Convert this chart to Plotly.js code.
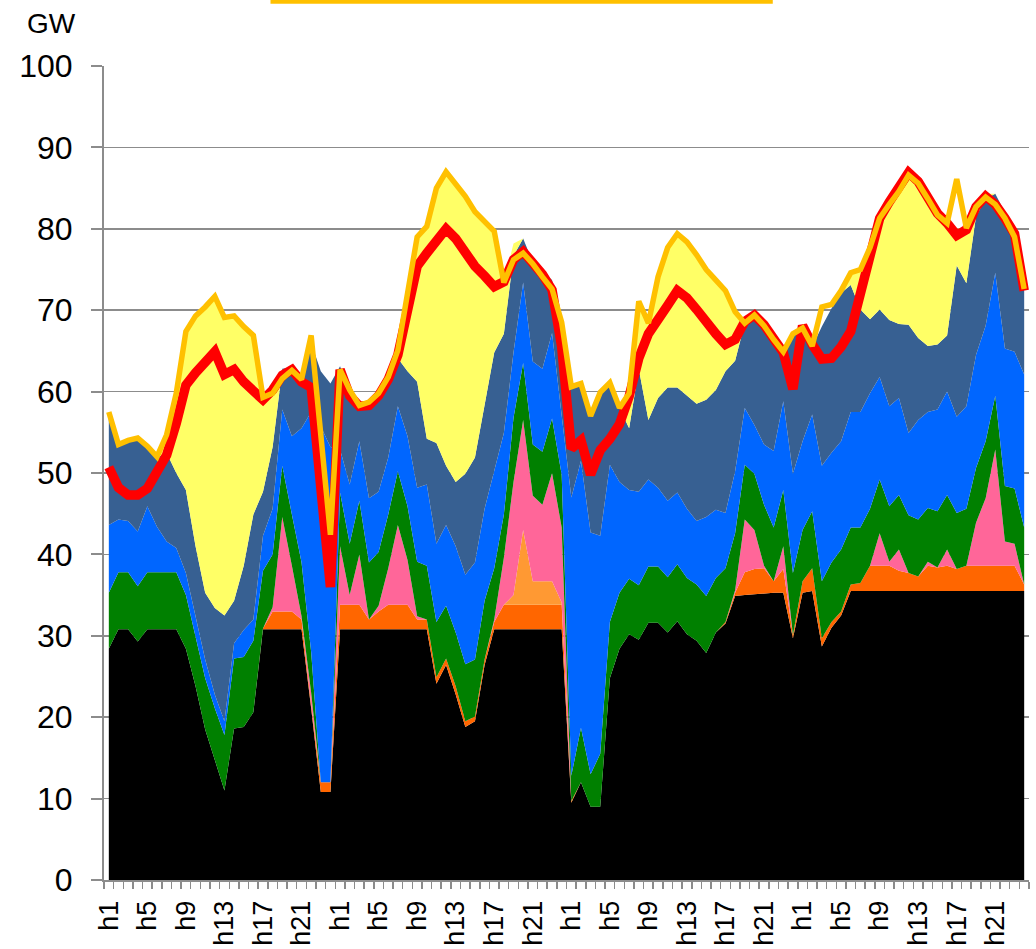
<!DOCTYPE html>
<html>
<head>
<meta charset="utf-8">
<script src="https://cdn.plot.ly/plotly-3.0.1.min.js"></script>
<style>
  html, body { margin: 0; padding: 0; background: #fff; }
  #chart { width: 1036px; height: 949px; }
</style>
</head>
<body>
<div id="chart"></div>
<script>
// 4 jours x 24 heures, une étiquette toutes les 4 heures
const hourNames = ['h1','h2','h3','h4','h5','h6','h7','h8','h9','h10','h11','h12',
                   'h13','h14','h15','h16','h17','h18','h19','h20','h21','h22','h23','h24'];
const dayCount = 4;
const labelStep = 4;

// Niveaux cumulés (haut de chaque couche empilée), en GW
const topBlack = [
  28.4,30.8,30.8,29.3,30.8,30.8,30.8,30.8,28.4,23.8,18.5,14.8,11.0,18.6,18.8,20.6,30.8,30.8,30.8,30.8,30.8,21.1,10.8,10.8,
  30.8,30.8,30.8,30.8,30.8,30.8,30.8,30.8,30.8,30.8,24.1,26.4,22.8,18.8,19.5,26.4,30.8,30.8,30.8,30.8,30.8,30.8,30.8,30.8,
  9.5,12.0,9.0,9.0,24.8,28.4,30.2,29.5,31.6,31.6,30.4,31.8,30.2,29.4,27.9,30.4,31.5,34.9,35.0,35.1,35.2,35.3,35.3,29.7,
  35.3,35.5,28.7,31.0,32.5,35.5,35.5,35.5,35.5,35.5,35.5,35.5,35.5,35.5,35.5,35.5,35.5,35.5,35.5,35.5,35.5,35.5,35.5,35.5
];
const topOrange = [
  28.4,30.8,30.8,29.3,30.8,30.8,30.8,30.8,28.4,23.8,18.5,14.8,11.0,18.6,18.8,20.6,30.9,33.0,33.0,33.0,32.0,21.5,12.0,12.0,
  33.8,33.8,33.8,32.0,33.0,33.8,33.8,33.8,32.0,32.0,24.9,27.2,23.8,19.5,20.1,27.1,31.7,33.8,33.8,33.8,33.8,33.8,33.8,33.8,
  9.7,12.0,9.0,9.0,24.8,28.4,30.2,29.5,31.6,31.6,30.4,31.8,30.2,29.4,27.9,30.4,31.7,35.3,37.8,38.2,38.3,36.7,38.2,30.1,
  36.7,38.3,29.7,31.7,33.0,36.3,36.5,38.6,38.6,38.6,38.0,37.7,37.3,38.6,38.4,38.6,38.2,38.6,38.6,38.6,38.6,38.6,38.6,36.3
];
const topLightOrange = [
  28.4,30.8,30.8,29.3,30.8,30.8,30.8,30.8,28.4,23.8,18.5,14.8,11.0,18.6,18.8,20.6,30.9,33.0,33.0,33.0,32.0,21.5,12.0,12.0,
  33.8,33.8,33.8,32.0,33.0,33.8,33.8,33.8,32.0,32.0,24.9,27.2,23.8,19.5,20.1,27.1,31.7,33.8,35.0,43.0,36.7,36.7,36.7,34.1,
  9.7,12.0,9.0,9.0,24.8,28.4,30.2,29.5,31.6,31.6,30.4,31.8,30.2,29.4,27.9,30.4,31.7,35.3,37.8,38.2,38.3,36.7,38.2,30.1,
  36.7,38.3,29.7,31.7,33.0,36.3,36.5,38.6,38.6,38.6,38.0,37.7,37.3,38.6,38.4,38.6,38.2,38.6,38.6,38.6,38.6,38.6,38.6,36.3
];
const topPink = [
  28.4,30.8,30.8,29.3,30.8,30.8,30.8,30.8,28.4,23.8,18.5,14.8,11.0,18.6,18.8,20.6,30.9,33.5,44.6,38.6,32.4,23.0,12.0,12.0,
  41.0,35.0,40.0,32.0,33.7,38.3,43.6,39.3,32.4,32.0,24.9,27.2,23.8,19.5,20.1,27.1,32.0,39.6,48.9,56.5,47.2,46.1,50.0,43.3,
  9.7,12.0,9.0,9.0,24.8,28.4,30.2,29.5,31.6,31.6,30.4,31.8,30.2,29.4,27.9,30.4,31.7,35.6,44.3,43.0,38.6,36.7,41.0,30.1,
  36.7,38.3,29.7,31.7,33.0,36.3,36.5,38.6,42.6,39.1,40.6,37.7,37.3,39.1,38.4,40.6,38.2,38.6,43.9,46.9,52.9,41.6,41.3,36.3
];
const topGreen = [
  35.3,37.8,37.8,36.1,37.8,37.8,37.8,37.8,35.0,29.7,24.8,21.1,17.8,27.2,27.4,29.4,38.0,40.0,50.9,44.9,39.0,28.0,12.0,12.0,
  47.6,41.3,46.6,39.0,40.3,44.9,50.2,45.9,39.1,38.6,31.7,33.7,30.4,26.5,27.1,34.3,38.3,44.9,56.8,63.5,53.5,52.6,56.7,49.8,
  12.8,18.7,13.0,15.5,31.7,35.3,37.0,36.2,38.5,38.5,37.2,38.8,37.1,36.3,34.9,37.1,38.3,42.6,51.0,49.9,46.1,43.3,47.9,37.7,
  43.0,45.3,36.7,39.0,40.6,43.3,43.3,45.6,49.2,45.9,47.3,44.8,44.3,45.7,45.3,47.3,45.1,45.6,50.6,53.9,59.5,48.4,48.1,43.3
];
const topBlue = [
  43.6,44.3,44.1,42.8,45.9,43.4,41.6,40.8,37.7,32.4,27.1,22.8,19.5,29.1,30.7,32.0,42.3,45.6,57.8,54.5,55.5,57.5,55.7,53.2,
  52.9,48.6,53.9,46.9,47.7,51.9,58.2,54.5,48.2,48.6,41.3,43.6,41.0,37.5,39.0,45.6,50.2,54.9,64.8,73.4,63.7,62.8,67.2,57.0,
  47.0,51.5,42.7,42.3,51.0,48.9,47.9,47.7,49.2,48.2,46.6,47.6,45.6,44.1,44.6,45.5,45.1,50.2,58.0,55.9,53.5,52.7,58.8,49.9,
  53.9,57.2,50.9,52.5,53.9,57.5,57.5,59.8,61.8,58.2,59.2,54.9,56.5,57.5,57.8,60.0,56.9,58.2,64.5,68.1,74.6,65.3,64.9,62.1
];
const topSlate = [
  56.8,53.4,53.9,54.2,53.2,51.9,52.5,50.0,47.9,41.0,35.3,33.4,32.5,34.3,38.6,44.9,47.7,53.2,62.8,63.0,61.5,66.0,62.5,61.0,
  63.1,59.8,58.2,58.2,59.2,61.2,64.1,62.5,61.2,54.2,53.7,50.9,48.9,49.9,51.9,58.2,64.8,67.1,76.7,78.8,75.9,74.8,73.7,68.0,
  61.0,61.0,57.0,59.8,61.0,58.0,55.5,62.8,56.5,59.2,60.5,60.5,59.5,58.5,59.0,60.2,62.5,63.8,68.4,69.4,68.4,67.1,65.5,67.2,
  67.8,65.5,68.0,70.2,72.1,73.1,70.1,68.9,70.1,68.8,68.3,68.2,66.6,65.6,65.8,66.9,75.5,73.3,81.5,83.7,84.3,82.0,80.3,72.4
];
const topYellow = [
  56.8,53.4,53.9,54.2,53.2,51.9,54.5,59.8,67.4,69.3,70.4,71.7,69.1,69.3,68.0,66.9,59.3,59.8,62.8,63.0,61.5,66.0,62.5,61.0,
  63.1,59.8,58.2,58.2,59.2,61.2,64.5,72.1,79.0,80.3,85.0,87.0,85.6,84.0,82.1,81.0,79.7,73.4,78.2,78.8,75.9,74.8,73.7,68.0,
  61.0,61.0,57.0,59.8,61.0,58.0,59.8,71.1,68.4,74.1,77.7,79.4,78.4,76.8,75.0,73.7,72.4,69.8,68.6,69.4,68.4,67.1,65.5,67.2,
  67.8,65.5,68.0,70.2,72.1,74.6,75.0,77.7,81.3,83.0,84.6,86.6,85.6,83.7,81.7,80.7,80.0,80.1,82.5,84.3,84.3,82.0,80.3,72.4
];

// Courbes
const redLine = [
  50.7,48.2,47.3,47.3,48.1,49.9,52.2,56.1,60.8,62.3,63.6,64.9,62.1,62.7,61.2,60.2,59.0,60.2,62.0,62.7,61.2,60.5,48.2,36.0,
  62.7,59.5,58.2,58.3,59.5,61.5,64.5,69.8,75.4,77.0,78.7,80.0,78.8,77.0,75.4,74.2,72.9,73.5,76.2,77.2,76.0,74.4,72.5,65.5,
  53.0,54.0,49.8,52.8,54.2,56.0,59.4,64.1,67.1,69.1,70.6,72.4,71.5,70.1,68.4,67.1,65.8,66.4,68.6,69.4,68.2,66.5,64.8,60.3,
  68.1,65.8,64.0,64.1,65.5,67.4,72.1,76.4,81.3,83.3,85.0,86.9,85.8,83.9,81.9,80.7,79.2,79.9,82.7,84.0,83.0,81.3,79.4,72.4
];
const goldLine = [
  57.5,53.5,54.0,54.3,53.3,52.0,54.7,59.8,67.4,69.3,70.4,71.7,69.1,69.3,68.0,66.9,59.3,59.8,61.6,62.6,61.5,66.9,54.7,42.4,
  62.7,60.2,58.3,58.7,59.8,61.8,65.1,72.1,79.0,80.3,85.0,87.0,85.6,84.0,82.1,81.0,79.7,73.4,76.2,77.0,75.7,74.1,72.6,68.5,
  60.6,61.0,57.0,59.9,61.1,58.0,59.8,71.1,68.4,74.1,77.7,79.4,78.4,76.8,75.0,73.7,72.4,69.8,68.4,69.4,68.1,66.4,64.9,67.1,
  67.8,65.6,70.4,70.7,72.4,74.6,75.0,77.7,81.3,83.0,84.6,86.6,85.6,83.7,81.7,80.7,86.1,80.1,82.7,83.9,83.0,81.3,79.0,72.6
];

// Couches empilées, de bas en haut
const layers = [
  { y: topBlack,       color: '#000000' },
  { y: topOrange,      color: '#FF6600' },
  { y: topLightOrange, color: '#FF9933' },
  { y: topPink,        color: '#FF6699' },
  { y: topGreen,       color: '#008000' },
  { y: topBlue,        color: '#0066FF' },
  { y: topSlate,       color: '#376092' },
  { y: topYellow,      color: '#FFFF66' }
];

// Axe x : index des heures, étiquettes h1..h24 répétées
const xIdx = [];
const hourText = [];
for (let d = 0; d < dayCount; d++) {
  hourNames.forEach(h => { xIdx.push(xIdx.length); hourText.push(h); });
}
const tickVals = xIdx.filter(i => i % labelStep === 0);
const tickText = tickVals.map(i => hourText[i]);

const data = layers.map((l, k) => ({
  type: 'scatter',
  mode: 'lines',
  x: xIdx,
  y: l.y,
  fill: k === 0 ? 'tozeroy' : 'tonexty',
  fillcolor: l.color,
  line: { width: 0, color: l.color },
  hoverinfo: 'skip',
  showlegend: false
}));

data.push({
  type: 'scatter', mode: 'lines', x: xIdx, y: redLine,
  line: { color: '#FF0000', width: 9.5 }, showlegend: false
});
data.push({
  type: 'scatter', mode: 'lines', x: xIdx, y: goldLine,
  line: { color: '#FFC000', width: 5.5 }, showlegend: false
});

const axisGrey = '#8c8c8c';
const font = 'Liberation Sans, Arial, sans-serif';

const layout = {
  width: 1036,
  height: 949,
  margin: { l: 103.5, r: 7, t: 66, b: 69 },
  paper_bgcolor: '#ffffff',
  plot_bgcolor: '#ffffff',
  showlegend: false,
  xaxis: {
    range: [-0.5, 95.5],
    tickmode: 'array',
    tickvals: tickVals,
    ticktext: tickText,
    tickangle: -90,
    ticks: '',
    ticklabelstandoff: 8,
    tickfont: { family: font, size: 27, color: '#000' },
    showgrid: false,
    zeroline: false,
    showline: true,
    linecolor: axisGrey,
    linewidth: 2,
    minor: { tickmode: 'linear', tick0: -0.5, dtick: 1, ticks: 'outside', ticklen: 7, tickwidth: 1.5, tickcolor: axisGrey, showgrid: false }
  },
  yaxis: {
    range: [0, 100],
    dtick: 10,
    ticks: 'outside',
    ticklen: 11,
    tickwidth: 2,
    tickcolor: axisGrey,
    tickfont: { family: font, size: 32, color: '#000' },
    ticklabelstandoff: 12,
    showgrid: true,
    gridcolor: axisGrey,
    gridwidth: 1.5,
    zeroline: false,
    showline: true,
    linecolor: axisGrey,
    linewidth: 2
  },
  annotations: [{
    text: 'GW', xref: 'paper', yref: 'paper', x: -0.057, y: 1.0516,
    xanchor: 'center', yanchor: 'middle', showarrow: false,
    font: { family: font, size: 28, color: '#000' }
  }],
  // morceau de légende coupé en haut de l'image
  shapes: [{
    type: 'line', xref: 'paper', yref: 'paper',
    x0: 0.18, x1: 0.723, y0: 1.0795, y1: 1.0795,
    line: { color: '#FFC000', width: 5 }
  }]
};

Plotly.newPlot('chart', data, layout, { displayModeBar: false, staticPlot: true });
</script>
</body>
</html>
